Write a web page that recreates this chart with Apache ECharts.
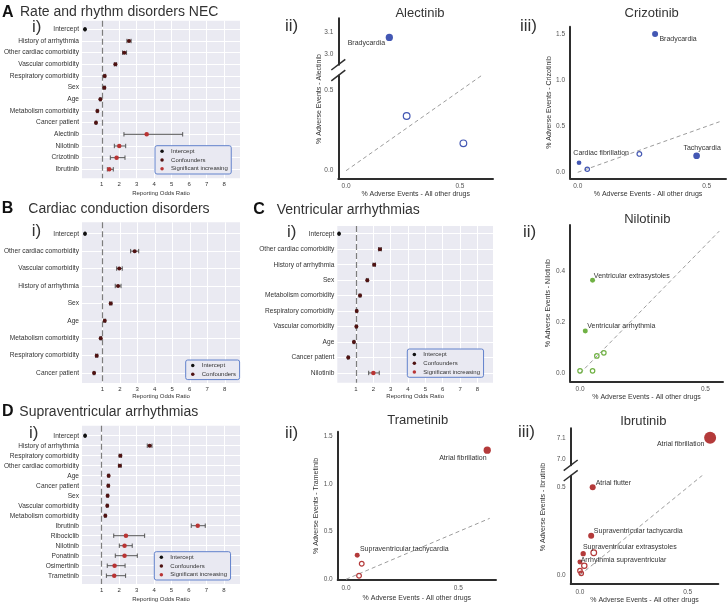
<!DOCTYPE html>
<html><head><meta charset="utf-8">
<script src="https://cdn.jsdelivr.net/npm/echarts@6.0.0/dist/echarts.min.js"></script>
<style>html,body{margin:0;padding:0;background:#fff}#c{width:728px;height:604px}</style>
</head><body><div id="c"></div>
<script>
// ---------------- DATA ----------------
// Forest A: Rate and rhythm disorders NEC
const catsA = ['Intercept','History of arrhythmia','Other cardiac comorbidity','Vascular comorbidity','Respiratory comorbidity','Sex','Age','Metabolism comorbidity','Cancer patient','Alectinib','Nilotinib','Crizotinib','Ibrutinib'];
const rorA = [0.04, 2.56, 2.29, 1.78, 1.17, 1.15, 0.92, 0.75, 0.67, 3.57, 2.00, 1.85, 1.43];
const loA  = [0.03, 2.44, 2.19, 1.72, 1.12, 1.11, 0.89, 0.71, 0.63, 2.27, 1.72, 1.49, 1.32];
const hiA  = [0.05, 2.68, 2.42, 1.85, 1.22, 1.20, 0.96, 0.79, 0.71, 5.63, 2.37, 2.33, 1.66];
const grpA = ['Intercept','Confounders','Confounders','Confounders','Confounders','Confounders','Confounders','Confounders','Confounders','Significant increasing','Significant increasing','Significant increasing','Significant increasing'];

// Forest B: Cardiac conduction disorders
const catsB = ['Intercept','Other cardiac comorbidity','Vascular comorbidity','History of arrhythmia','Sex','Age','Metabolism comorbidity','Respiratory comorbidity','Cancer patient'];
const rorB = [0.01, 2.85, 1.97, 1.90, 1.48, 1.14, 0.91, 0.68, 0.53];
const loB  = [0.005, 2.62, 1.82, 1.74, 1.42, 1.09, 0.87, 0.62, 0.49];
const hiB  = [0.02, 3.08, 2.14, 2.07, 1.55, 1.19, 0.95, 0.74, 0.57];
const grpB = ['Intercept','Confounders','Confounders','Confounders','Confounders','Confounders','Confounders','Confounders','Confounders'];

// Forest C: Ventricular arrhythmias
const catsC = ['Intercept','Other cardiac comorbidity','History of arrhythmia','Sex','Metabolism comorbidity','Respiratory comorbidity','Vascular comorbidity','Age','Cancer patient','Nilotinib'];
const rorC = [0.02, 2.38, 2.05, 1.65, 1.23, 1.04, 1.02, 0.88, 0.55, 2.00];
const loC  = [0.01, 2.30, 1.98, 1.60, 1.18, 1.00, 0.98, 0.84, 0.51, 1.73];
const hiC  = [0.03, 2.46, 2.12, 1.70, 1.28, 1.08, 1.06, 0.92, 0.59, 2.34];
const grpC = ['Intercept','Confounders','Confounders','Confounders','Confounders','Confounders','Confounders','Confounders','Confounders','Significant increasing'];

// Forest D: Supraventricular arrhythmias
const catsD = ['Intercept','History of arrhythmia','Respiratory comorbidity','Other cardiac comorbidity','Age','Cancer patient','Sex','Vascular comorbidity','Metabolism comorbidity','Ibrutinib','Ribociclib','Nilotinib','Ponatinib','Osimertinib','Trametinib'];
const rorD = [0.05, 3.75, 2.07, 2.04, 1.40, 1.38, 1.34, 1.32, 1.21, 6.50, 2.39, 2.31, 2.31, 1.74, 1.72];
const loD  = [0.04, 3.61, 2.00, 1.96, 1.36, 1.33, 1.30, 1.28, 1.17, 6.13, 1.69, 2.01, 1.78, 1.32, 1.27];
const hiD  = [0.06, 3.88, 2.14, 2.12, 1.44, 1.43, 1.38, 1.36, 1.25, 6.93, 3.46, 2.75, 3.04, 2.34, 2.37];
const grpD = ['Intercept','Confounders','Confounders','Confounders','Confounders','Confounders','Confounders','Confounders','Confounders','Significant increasing','Significant increasing','Significant increasing','Significant increasing','Significant increasing','Significant increasing'];

const forestTicks = [1, 2, 3, 4, 5, 6, 7, 8];

// Scatter panels: % adverse events (all other drugs) vs (drug)
const alecNames = ['Bradycardia', '', ''];
const alecOther = [0.19, 0.266, 0.515];
const alecDrug  = [3.077, 0.342, 0.171];
const alecSig   = [1, 0, 0];
const alecN     = [51, 38, 38];

const crizNames = ['Bradycardia', 'Tachycardia', 'Cardiac fibrillation', '', ''];
const crizOther = [0.30, 0.461, 0.005, 0.037, 0.239];
const crizDrug  = [1.503, 0.18, 0.104, 0.033, 0.20];
const crizSig   = [1, 1, 1, 0, 0];
const crizN     = [25, 38, 8, 5, 8];

const niloNames = ['Ventricular extrasystoles', 'Ventricular arrhythmia', '', '', '', ''];
const niloOther = [0.05, 0.021, 0.0, 0.05, 0.067, 0.095];
const niloDrug  = [0.363, 0.165, 0.010, 0.010, 0.068, 0.080];
const niloSig   = [1, 1, 0, 0, 0, 0];
const niloN     = [11, 11, 6, 6, 6, 6];

const tramNames = ['Atrial fibrillation', 'Supraventricular tachycardia', '', ''];
const tramOther = [0.629, 0.05, 0.07, 0.058];
const tramDrug  = [1.356, 0.252, 0.164, 0.038];
const tramSig   = [1, 1, 0, 0];
const tramN     = [51, 11, 8, 8];

const ibruNames = ['Atrial fibrillation', 'Atrial flutter', 'Supraventricular tachycardia', 'Supraventricular extrasystoles', '', 'Arrhythmia supraventricular', '', '', ''];
const ibruOther = [0.604, 0.059, 0.052, 0.015, 0.064, 0.0, 0.02, 0.0, 0.006];
const ibruDrug  = [7.103, 0.50, 0.224, 0.122, 0.127, 0.074, 0.053, 0.025, 0.010];
const ibruSig   = [1, 1, 1, 1, 0, 1, 0, 0, 0];
const ibruN     = [225, 25, 25, 15, 20, 11, 15, 6, 6];

// ---------------- LAYOUT / STYLE ----------------
const FONT = 'Liberation Sans, Arial, sans-serif';
const GROUP_COLORS = {'Intercept': '#111111', 'Confounders': '#4f1212', 'Significant increasing': '#b93434'};

const LAY = {
  A1: {box: [82, 20.7, 240, 178.3], xr: [-0.13, 8.91], yr: [-0.74, 12.77], legend: [155, 145.7], nameGap: 12.5},
  B1: {box: [82, 222.3, 240, 383], xr: [-0.16, 8.87], yr: [-0.655, 8.57], legend: [185.7, 360], nameGap: 10.7},
  C1: {box: [337.3, 226, 493, 382.7], xr: [-0.08, 8.9], yr: [-0.5, 9.63], legend: [407.3, 349], nameGap: 10.3},
  D1: {box: [82, 425.7, 240, 584], xr: [-0.126, 8.92], yr: [-1.0, 14.83], legend: [154.3, 551.7], nameGap: 12},
  alec: {upper: [338.3, 18.3, 493, 64.7], lower: [338.3, 75.5, 493, 178.3], xr: [-0.034, 0.645], yrU: [2.953, 3.164], yrL: [-0.0475, 0.595], tU: [3.0, 3.1], tL: [0, 0.5], gapX: 12, yLabelAt: [319, 99], diag: 0.6, title: [420, 13]},
  criz: {lower: [570, 26.7, 726, 178.3], xr: [-0.03, 0.575], yrL: [-0.065, 1.583], tL: [0, 0.5, 1.0, 1.5], gapX: 12, gapY: 16.5, diag: 0.55, title: [651.7, 13]},
  nilo: {lower: [570, 225, 723, 381.3], xr: [-0.04, 0.57], yrL: [-0.031, 0.579], tL: [0, 0.2, 0.4], gapX: 12, gapY: 18, diag: 0.555, title: [647.3, 219.3]},
  tram: {lower: [337.7, 431.7, 496, 580], xr: [-0.037, 0.668], yrL: [-0.0074, 1.55], tL: [0, 0.5, 1.0, 1.5], gapX: 14.5, gapY: 16, diag: 0.64, title: [417.7, 420.7]},
  ibru: {upper: [570.7, 428.3, 718.3, 465.3], lower: [570.7, 475.7, 718.3, 584], xr: [-0.043, 0.642], yrU: [6.971, 7.148], yrL: [-0.051, 0.566], tU: [7.0, 7.1], tL: [0, 0.5], gapX: 11.5, yLabelAt: [543.3, 507], diag: 0.6, title: [643.3, 421.7]}
};

const LABEL_PLACE = {
  'Alectinib|Bradycardia': ['right', -4.3, 5.4],
  'Crizotinib|Bradycardia': ['left', 4.3, 5.3],
  'Crizotinib|Tachycardia': ['center', 5.5, -7.4],
  'Crizotinib|Cardiac fibrillation': ['left', -5.7, -10],
  'Nilotinib|Ventricular extrasystoles': ['left', 1.3, -4.6],
  'Nilotinib|Ventricular arrhythmia': ['left', 2, -5.3],
  'Trametinib|Atrial fibrillation': ['right', -0.6, 7.4],
  'Trametinib|Supraventricular tachycardia': ['left', 2.7, -6],
  'Ibrutinib|Atrial fibrillation': ['right', -5.7, 6.6],
  'Ibrutinib|Atrial flutter': ['left', 3, -4.3],
  'Ibrutinib|Supraventricular tachycardia': ['left', 2.7, -4.7],
  'Ibrutinib|Supraventricular extrasystoles': ['left', -0.3, -7],
  'Ibrutinib|Arrhythmia supraventricular': ['left', 0.7, -1.7]
};

// ---------------- BUILD ----------------
const grids = [], xAxes = [], yAxes = [], series = [], legends = [], graphics = [];

function gridBox(b, bg) {
  return {left: b[0], top: b[1], width: b[2] - b[0], height: b[3] - b[1], show: !!bg,
    backgroundColor: bg || 'transparent', borderWidth: 0, containLabel: false, outerBoundsMode: 'none'};
}

function txt(x, y, text, size, o) {
  o = o || {};
  graphics.push({type: 'text', x: x, y: y, rotation: o.rot || 0, silent: true, z: 100,
    style: {text: text, fill: o.color || '#333', fontSize: size, fontFamily: FONT,
      fontWeight: o.bold ? 'bold' : 'normal', align: o.align || 'left', textAlign: o.align || 'left',
      verticalAlign: 'middle', textVerticalAlign: 'middle'}});
}

function errRender(params, api) {
  const y = api.value(3);
  const p1 = api.coord([api.value(1), y]);
  const p2 = api.coord([api.value(2), y]);
  const h = 2.2;
  const st = {stroke: '#555', lineWidth: 1};
  return {type: 'group', children: [
    {type: 'line', shape: {x1: p1[0], y1: p1[1], x2: p2[0], y2: p2[1]}, style: st},
    {type: 'line', shape: {x1: p1[0], y1: p1[1] - h, x2: p1[0], y2: p1[1] + h}, style: st},
    {type: 'line', shape: {x1: p2[0], y1: p2[1] - h, x2: p2[0], y2: p2[1] + h}, style: st}
  ]};
}

function forestPanel(L, cats, ror, lo, hi, groups) {
  const g = grids.length;
  grids.push(gridBox(L.box, '#eaeaf2'));
  const xi = xAxes.length, yi = yAxes.length;
  const rows = cats.map((c, i) => i);
  xAxes.push({gridIndex: g, type: 'value', min: L.xr[0], max: L.xr[1],
    axisLine: {show: false}, axisTick: {show: false, customValues: forestTicks},
    axisLabel: {customValues: forestTicks, fontSize: 6, color: '#333', margin: 3.5, fontFamily: FONT},
    splitLine: {show: true, lineStyle: {color: '#ffffff', width: 1}},
    name: 'Reporting Odds Ratio', nameLocation: 'middle', nameGap: L.nameGap,
    nameTextStyle: {fontSize: 6, color: '#333', fontFamily: FONT}});
  yAxes.push({gridIndex: g, type: 'value', inverse: true, min: L.yr[0], max: L.yr[1],
    axisLine: {show: false}, axisTick: {show: false, customValues: rows},
    axisLabel: {customValues: rows, formatter: v => cats[Math.round(v)] || '', fontSize: 6.6, color: '#333', margin: 3, fontFamily: FONT},
    splitLine: {show: true, lineStyle: {color: '#ffffff', width: 1}}});
  series.push({type: 'custom', name: 'errbars', xAxisIndex: xi, yAxisIndex: yi, renderItem: errRender,
    data: cats.map((c, i) => [ror[i], lo[i], hi[i], i]), encode: {x: [1, 2], y: 3}, silent: true, z: 3, clip: false});
  const names = [];
  ['Intercept', 'Confounders', 'Significant increasing'].forEach((gn, k) => {
    const d = [];
    cats.forEach((c, i) => { if (groups[i] === gn) d.push([ror[i], i]); });
    if (!d.length) return;
    names.push(gn);
    const s = {type: 'scatter', name: gn, xAxisIndex: xi, yAxisIndex: yi, data: d,
      symbolSize: gn === 'Significant increasing' ? 4.5 : 4,
      itemStyle: {color: GROUP_COLORS[gn], opacity: 1}, z: 4, silent: true, clip: false};
    if (k === 0) {
      s.markLine = {silent: true, symbol: ['none', 'none'], label: {show: false},
        lineStyle: {type: [6, 3], color: '#7d7d7d', width: 1.2}, data: [{xAxis: 1}], z: 2};
    }
    series.push(s);
  });
  legends.push({orient: 'vertical', left: L.legend[0], top: L.legend[1], data: names, icon: 'circle',
    itemWidth: 8, itemHeight: 3.5, itemGap: 0.7, padding: [1.6, 3.5, 1.3, 5.3],
    backgroundColor: '#e9e9f2', borderColor: '#6282cc', borderWidth: 1, borderRadius: 2,
    selectedMode: false, textStyle: {fontSize: 6, color: '#333', lineHeight: 8, fontFamily: FONT}});
}

function sx(g, xr, show, gap) {
  return {gridIndex: g, type: 'value', min: xr[0], max: xr[1], show: show,
    axisLine: {show: true, onZero: false, lineStyle: {color: '#2e2e2e', width: 2}},
    axisTick: {show: false}, splitLine: {show: false},
    axisLabel: {customValues: [0, 0.5], formatter: v => v.toFixed(1), fontSize: 6.5, color: '#555', margin: 4.5, fontFamily: FONT},
    name: '% Adverse Events - All other drugs', nameLocation: 'middle', nameGap: gap || 12,
    nameTextStyle: {fontSize: 7, color: '#333', fontFamily: FONT}};
}
function sy(g, yr, ticks, name, gap) {
  const a = {gridIndex: g, type: 'value', min: yr[0], max: yr[1],
    axisLine: {show: true, onZero: false, lineStyle: {color: '#2e2e2e', width: 2}},
    axisTick: {show: false}, splitLine: {show: false},
    axisLabel: {customValues: ticks, formatter: v => v.toFixed(1), fontSize: 6.5, color: '#555', margin: 5, fontFamily: FONT}};
  if (name) {
    a.name = name; a.nameLocation = 'middle'; a.nameGap = gap;
    a.nameTextStyle = {fontSize: 7, color: '#333', fontFamily: FONT};
  }
  return a;
}

function scatterPanel(drug, P, names, xs, ys, sig, n, color) {
  const hasU = !!P.upper;
  const gL = grids.length; grids.push(gridBox(P.lower));
  const xiL = xAxes.length; xAxes.push(sx(gL, P.xr, true, P.gapX));
  const yiL = yAxes.length; yAxes.push(sy(gL, P.yrL, P.tL, hasU ? null : '% Adverse Events - ' + drug, P.gapY));
  let xiU = null, yiU = null;
  if (hasU) {
    const gU = grids.length; grids.push(gridBox(P.upper));
    xiU = xAxes.length; xAxes.push(sx(gU, P.xr, false));
    yiU = yAxes.length; yAxes.push(sy(gU, P.yrU, P.tU, null));
    // break marks
    const bx = P.lower[0];
    [P.upper[3], P.lower[1]].forEach(by => {
      graphics.push({type: 'line', silent: true, z: 100, shape: {x1: bx - 7, y1: by + 5.3, x2: bx + 7, y2: by - 5.3},
        style: {stroke: '#2e2e2e', lineWidth: 1.5}});
    });
    txt(P.yLabelAt[0], P.yLabelAt[1], '% Adverse Events - ' + drug, 7, {rot: Math.PI / 2, align: 'center'});
  }
  txt(P.title[0], P.title[1], drug, 13, {align: 'center'});
  series.push({type: 'line', xAxisIndex: xiL, yAxisIndex: yiL, data: [[0, 0], [P.diag, P.diag]],
    showSymbol: false, symbol: 'none', silent: true, z: 1,
    lineStyle: {type: [4, 3], color: '#9c9c9c', width: 1}});
  const buckets = {};
  xs.forEach((xv, i) => {
    const up = hasU && ys[i] > P.yrL[1];
    const key = (up ? 'U' : 'L') + (sig[i] ? 'f' : 'o');
    const item = {value: [xv, ys[i], n[i]]};
    if (names[i]) {
      const pl = LABEL_PLACE[drug + '|' + names[i]] || ['left', 4, 0];
      item.name = names[i];
      item.label = {show: true, formatter: names[i], position: 'inside', align: pl[0], verticalAlign: 'middle',
        offset: [pl[1], pl[2]], fontSize: 7, color: '#333', fontFamily: FONT};
    }
    (buckets[key] = buckets[key] || []).push(item);
  });
  Object.keys(buckets).forEach(key => {
    const up = key[0] === 'U', filled = key[1] === 'f';
    series.push({type: 'scatter', name: drug + ' ' + key, xAxisIndex: up ? xiU : xiL, yAxisIndex: up ? yiU : yiL,
      data: buckets[key], symbolSize: v => 3 + 0.6 * Math.sqrt(v[2]), silent: true, z: 5, clip: false,
      itemStyle: filled ? {color: color, opacity: 1} : {color: 'rgba(255,255,255,0)', borderColor: color, borderWidth: 1.2, opacity: 1}});
  });
}

// Forest panels
forestPanel(LAY.A1, catsA, rorA, loA, hiA, grpA);
forestPanel(LAY.B1, catsB, rorB, loB, hiB, grpB);
forestPanel(LAY.C1, catsC, rorC, loC, hiC, grpC);
forestPanel(LAY.D1, catsD, rorD, loD, hiD, grpD);

// Scatter panels
const BLUE = '#4357b3', GREEN = '#70b144', RED = '#b43a3a';
scatterPanel('Alectinib', LAY.alec, alecNames, alecOther, alecDrug, alecSig, alecN, BLUE);
scatterPanel('Crizotinib', LAY.criz, crizNames, crizOther, crizDrug, crizSig, crizN, BLUE);
scatterPanel('Nilotinib', LAY.nilo, niloNames, niloOther, niloDrug, niloSig, niloN, GREEN);
scatterPanel('Trametinib', LAY.tram, tramNames, tramOther, tramDrug, tramSig, tramN, RED);
scatterPanel('Ibrutinib', LAY.ibru, ibruNames, ibruOther, ibruDrug, ibruSig, ibruN, RED);

// Headings
txt(2, 12.5, 'A', 16, {bold: true, color: '#111'});
txt(20, 12.5, 'Rate and rhythm disorders NEC', 14);
txt(1.7, 209, 'B', 16, {bold: true, color: '#111'});
txt(28.3, 209, 'Cardiac conduction disorders', 14);
txt(253.3, 210, 'C', 16, {bold: true, color: '#111'});
txt(276.7, 210, 'Ventricular arrhythmias', 14);
txt(2, 412, 'D', 16, {bold: true, color: '#111'});
txt(19.3, 412, 'Supraventricular arrhythmias', 14);
// Sub-panel numerals
txt(32, 27, 'i)', 17); txt(285, 26.7, 'ii)', 17); txt(520, 26.7, 'iii)', 17);
txt(31.7, 231.7, 'i)', 17); txt(287, 232, 'i)', 17); txt(523, 232, 'ii)', 17);
txt(29, 433, 'i)', 17); txt(285, 433, 'ii)', 17); txt(518, 432, 'iii)', 17);

const chart = echarts.init(document.getElementById('c'), null, {renderer: 'canvas'});
chart.setOption({
  animation: false,
  backgroundColor: '#ffffff',
  textStyle: {fontFamily: FONT},
  grid: grids, xAxis: xAxes, yAxis: yAxes, series: series, legend: legends, graphic: graphics
});
</script></body></html>
